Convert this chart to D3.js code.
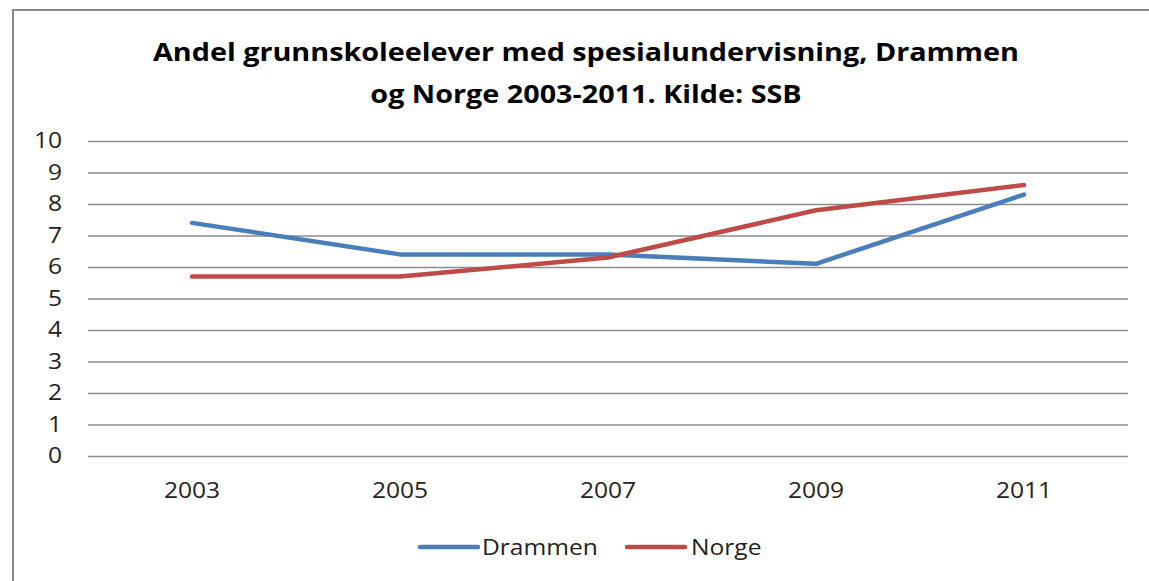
<!DOCTYPE html>
<html>
<head>
<meta charset="utf-8">
<script src="https://cdn.jsdelivr.net/npm/d3@7"></script>
<style>
  body { margin: 0; background: #fff; }
  svg { display: block; font-family: "Open Sans", "Noto Sans", sans-serif; }
</style>
</head>
<body>
<div id="main"></div>
<script>
// data
const years = ["2003", "2005", "2007", "2009", "2011"];
const drammen = [7.4, 6.4, 6.4, 6.1, 8.3];
const norge = [5.7, 5.7, 6.3, 7.8, 8.6];
const yTicks = [0, 1, 2, 3, 4, 5, 6, 7, 8, 9, 10];
const seriesNames = ["Drammen", "Norge"];
const seriesColors = ["#4a7ebb", "#be4b48"];
const titleLines = [
  "Andel grunnskoleelever med spesialundervisning,  Drammen",
  "og Norge 2003-2011. Kilde: SSB"
];

const width = 1149;
const height = 581;
const margin = { top: 141, right: 21, bottom: 125, left: 88 };
const innerWidth = width - margin.left - margin.right;
const innerHeight = height - margin.top - margin.bottom;

// the original font is a bit wider than what we have, stretch it a little
function widen(stretch) {
  return sel => sel.each(function() {
    const len = this.getComputedTextLength();
    d3.select(this)
      .attr("textLength", len * stretch)
      .attr("lengthAdjust", "spacingAndGlyphs");
  });
}

const svg = d3.select("#main")
  .append("svg")
  .attr("width", width)
  .attr("height", height);

// outer chart border, only left and top edges are in the picture
svg.append("path")
  .attr("d", `M13,${height} V10 H${width}`)
  .attr("fill", "none")
  .attr("stroke", "#888")
  .attr("stroke-width", 2);

// title
svg.append("g")
  .selectAll("text")
  .data(titleLines)
  .enter()
  .append("text")
  .attr("x", 586)
  .attr("y", (d, i) => 61 + i * 42)
  .attr("text-anchor", "middle")
  .attr("font-size", 25)
  .attr("font-weight", "bold")
  .attr("fill", "#000")
  .text(d => d)
  .call(widen(1.15));

const g = svg.append("g")
  .attr("transform", `translate(${margin.left}, ${margin.top})`);

const xScale = d3.scaleBand()
  .domain(years)
  .range([0, innerWidth]);

const yScale = d3.scaleLinear()
  .domain([0, 10])
  .range([innerHeight, 0]);

// gridlines + y labels
const yAxis = d3.axisLeft(yScale)
  .tickValues(yTicks)
  .tickSize(-innerWidth)
  .tickPadding(26);

g.append("g")
  .call(yAxis)
  .call(a => a.select(".domain").remove())
  .call(a => a.selectAll(".tick line").attr("stroke", "#8c8c8c").attr("stroke-width", 1.3))
  .call(a => a.selectAll(".tick text")
    .attr("font-size", 21)
    .attr("fill", "#222")
    .attr("font-family", "Open Sans, sans-serif")
    .call(widen(1.17)));

// x labels
const xAxis = d3.axisBottom(xScale).tickSize(0).tickPadding(27);
g.append("g")
  .attr("transform", `translate(0, ${innerHeight})`)
  .call(xAxis)
  .call(a => a.select(".domain").remove())
  .call(a => a.selectAll(".tick text")
    .attr("font-size", 21)
    .attr("fill", "#222")
    .attr("font-family", "Open Sans, sans-serif")
    .call(widen(1.17)));

const line = d3.line()
  .x((d, i) => xScale(years[i]) + xScale.bandwidth() / 2)
  .y(d => yScale(d));

[drammen, norge].forEach((values, k) => {
  g.append("path")
    .datum(values)
    .attr("fill", "none")
    .attr("stroke", seriesColors[k])
    .attr("stroke-width", 4.5)
    .attr("stroke-linejoin", "round")
    .attr("stroke-linecap", "round")
    .attr("d", line);
});

// legend
const legendX = [420, 627];
const legend = svg.append("g")
  .selectAll("g")
  .data(seriesNames)
  .enter()
  .append("g")
  .attr("transform", (d, i) => `translate(${legendX[i]}, 547)`);

legend.append("line")
  .attr("x1", 0)
  .attr("x2", 58)
  .attr("stroke", (d, i) => seriesColors[i])
  .attr("stroke-width", 4.5)
  .attr("stroke-linecap", "round");

legend.append("text")
  .attr("x", (d, i) => i === 0 ? 62 : 64)
  .attr("y", 8)
  .attr("font-size", 21)
  .attr("fill", "#222")
  .text(d => d)
  .call(widen(1.17));
</script>
</body>
</html>
